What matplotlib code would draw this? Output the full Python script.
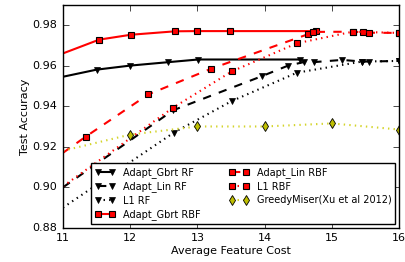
import matplotlib
matplotlib.use("Agg")
import matplotlib.pyplot as plt

plt.style.use("classic")
plt.rcParams["font.family"] = ["DejaVu Sans"]

# Adapt_Gbrt RF (solid black)
gbrt_rf_x = [11.0, 11.5, 12.0, 12.57, 13.01, 14.53]
gbrt_rf_y = [0.9545, 0.958, 0.960, 0.9617, 0.9630, 0.9630]

# Adapt_Lin RF (dashed black)
lin_rf_x = [11.0, 12.64, 13.96, 14.35, 14.58, 14.73, 15.15, 15.45, 15.55, 16.0]
lin_rf_y = [0.900, 0.938, 0.9548, 0.960, 0.9617, 0.9617, 0.9628, 0.962, 0.962, 0.9623]

# L1 RF (dotted black)
l1_rf_x = [11.0, 12.65, 13.51, 14.48, 15.45, 16.0]
l1_rf_y = [0.890, 0.927, 0.9425, 0.9565, 0.962, 0.9623]

# Adapt_Gbrt RBF (solid red)
gbrt_rbf_x = [11.0, 11.54, 12.01, 12.67, 13.0, 13.48, 14.76]
gbrt_rbf_y = [0.966, 0.9728, 0.9752, 0.9769, 0.977, 0.977, 0.977]

# Adapt_Lin RBF (dashed red)
lin_rbf_x = [11.0, 11.34, 12.27, 13.2, 14.64, 14.72, 15.31, 15.46, 15.55, 16.0]
lin_rbf_y = [0.917, 0.925, 0.9458, 0.9584, 0.9754, 0.9766, 0.9767, 0.9764, 0.9762, 0.9761]

# L1 RBF (dotted red)
l1_rbf_x = [11.0, 12.64, 13.51, 14.48, 15.31, 16.0]
l1_rbf_y = [0.9005, 0.9393, 0.9571, 0.971, 0.9767, 0.9761]

# GreedyMiser (Xu et al 2012)
greedy_x = [11.0, 12.0, 13.0, 14.0, 15.0, 16.0]
greedy_y = [0.918, 0.926, 0.930, 0.930, 0.9315, 0.9285]

labels = ["Adapt_Gbrt RF", "Adapt_Lin RF", "L1 RF", "Adapt_Gbrt RBF",
          "Adapt_Lin RBF", "L1 RBF", "GreedyMiser(Xu et al 2012)"]

fig = plt.figure(figsize=(4.06, 2.62), dpi=100, facecolor="white")
ax = fig.add_axes([0.155, 0.130, 0.828, 0.852])

tri = dict(marker="v", markersize=5, markerfacecolor="black", markeredgecolor="black")
sq = dict(marker="s", markersize=4.5, markerfacecolor="red", markeredgecolor="black",
          markeredgewidth=0.8)

ax.plot(gbrt_rf_x, gbrt_rf_y, "-", color="black", lw=1.5, markevery=list(range(1, 6)),
        label=labels[0], **tri)
ax.plot(lin_rf_x, lin_rf_y, "--", color="black", lw=1.5, markevery=list(range(1, 10)),
        label=labels[1], **tri)
ax.plot(l1_rf_x, l1_rf_y, ":", color="black", lw=1.5, markevery=list(range(1, 6)),
        label=labels[2], **tri)
ax.plot(gbrt_rbf_x, gbrt_rbf_y, "-", color="red", lw=1.5, markevery=list(range(1, 7)),
        label=labels[3], **sq)
ax.plot(lin_rbf_x, lin_rbf_y, "--", color="red", lw=1.5, markevery=list(range(1, 10)),
        label=labels[4], **sq)
ax.plot(l1_rbf_x, l1_rbf_y, ":", color="red", lw=1.5, markevery=list(range(1, 6)),
        label=labels[5], **sq)
ax.plot(greedy_x, greedy_y, ":", color="#d4d42a", lw=1.5, marker="d", markersize=5,
        markerfacecolor="#bfbf00", markeredgecolor="black", markeredgewidth=0.6,
        markevery=list(range(1, 6)), label=labels[6])

ax.set_xlim(11, 16)
ax.set_ylim(0.88, 0.99)
ax.set_xticks([11, 12, 13, 14, 15, 16])
ax.set_yticks([0.88, 0.90, 0.92, 0.94, 0.96, 0.98])
ax.set_yticklabels(["0.88", "0.90", "0.92", "0.94", "0.96", "0.98"])
ax.tick_params(labelsize=8, length=4, direction="in")
ax.set_xlabel("Average Feature Cost", fontsize=8, labelpad=2)
ax.set_ylabel("Test Accuracy", fontsize=8, labelpad=2)

leg = ax.legend(loc="lower right", ncol=2, numpoints=2, fontsize=7, frameon=True,
                fancybox=False, handlelength=2.0, columnspacing=3.0,
                labelspacing=0.35, borderaxespad=0.4)
leg.get_frame().set_edgecolor("black")

fig.savefig("out.png", dpi=100, facecolor="white")
